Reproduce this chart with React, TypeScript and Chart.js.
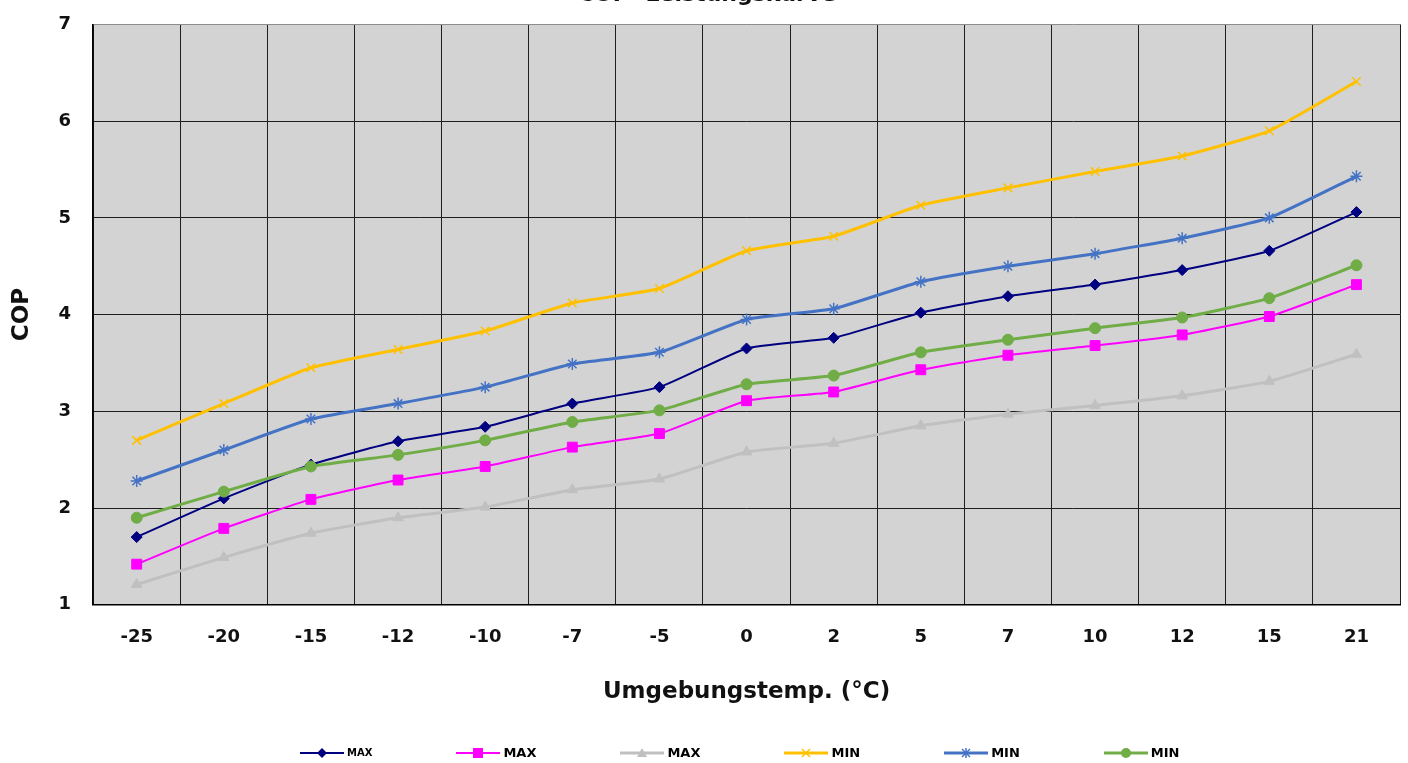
import React, { useEffect, useRef } from "react";
import { Chart, registerables } from "chart.js";

Chart.register(...registerables);

const chartTitle = "COP -Leistungskurve";
const xTitle = "Umgebungstemp. (°C)";
const yTitle = "COP";
const categories = ["-25", "-20", "-15", "-12", "-10", "-7", "-5", "0", "2", "5", "7", "10", "12", "15", "21"];

const maxNavy = [1.70, 2.10, 2.45, 2.69, 2.84, 3.08, 3.25, 3.65, 3.76, 4.02, 4.19, 4.31, 4.46, 4.66, 5.06];
const maxMagenta = [1.42, 1.79, 2.09, 2.29, 2.43, 2.63, 2.77, 3.11, 3.20, 3.43, 3.58, 3.68, 3.79, 3.98, 4.31];
const maxGray = [1.21, 1.49, 1.74, 1.90, 2.01, 2.19, 2.30, 2.58, 2.67, 2.85, 2.97, 3.06, 3.16, 3.31, 3.59];
const minYellow = [2.70, 3.08, 3.45, 3.64, 3.83, 4.12, 4.27, 4.66, 4.81, 5.13, 5.31, 5.48, 5.64, 5.90, 6.41];
const minBlue = [2.28, 2.60, 2.92, 3.08, 3.25, 3.49, 3.61, 3.95, 4.06, 4.34, 4.50, 4.63, 4.79, 5.00, 5.43];
const minGreen = [1.90, 2.17, 2.43, 2.55, 2.70, 2.89, 3.01, 3.28, 3.37, 3.61, 3.74, 3.86, 3.97, 4.17, 4.51];

const seriesValues = [maxNavy, maxMagenta, maxGray, minYellow, minBlue, minGreen];
const seriesLabels = ["MAX", "MAX", "MAX", "MIN", "MIN", "MIN"];
const seriesColors = ["#000080", "#ff00ff", "#c0c0c0", "#ffc000", "#4472c4", "#70ad47"];
const seriesPointStyles = ["rectRot", "rect", "triangle", "crossRot", "star", "circle"];
const seriesLineWidths = [2, 2, 3, 3, 3, 3];
const seriesPointRadii = [5.5, 7, 6, 6, 6, 5.5];

const yMin = 1;
const yMax = 7;

const FONT = "'DejaVu Sans', sans-serif";

const plotBg = {
  id: "plotBg",
  beforeDraw(chart: any) {
    const { ctx, chartArea: a } = chart;
    ctx.save();
    ctx.fillStyle = "#d3d3d3";
    ctx.fillRect(a.left, a.top, a.right - a.left, a.bottom - a.top);
    ctx.restore();
  },
};

function Swatch({ color, style, lw }: { color: string; style: string; lw: number }) {
  const W = 44;
  const c = W / 2;
  let marker: React.ReactNode = null;
  if (style === "rectRot") marker = <polygon points={`${c},2 ${c + 5},7 ${c},12 ${c - 5},7`} fill={color} />;
  else if (style === "rect") marker = <rect x={c - 5} y={2} width={10} height={10} fill={color} />;
  else if (style === "triangle") marker = <polygon points={`${c},2 ${c + 5},11 ${c - 5},11`} fill={color} />;
  else if (style === "crossRot")
    marker = (
      <g stroke={color} strokeWidth={1.5}>
        <line x1={c - 4} y1={3} x2={c + 4} y2={11} />
        <line x1={c + 4} y1={3} x2={c - 4} y2={11} />
      </g>
    );
  else if (style === "star")
    marker = (
      <g stroke={color} strokeWidth={1.5}>
        <line x1={c - 4} y1={3} x2={c + 4} y2={11} />
        <line x1={c + 4} y1={3} x2={c - 4} y2={11} />
        <line x1={c} y1={2} x2={c} y2={12} />
      </g>
    );
  else marker = <circle cx={c} cy={7} r={5} fill={color} />;
  return (
    <svg width={W} height={14} style={{ display: "block" }}>
      <line x1={0} y1={7} x2={W} y2={7} stroke={color} strokeWidth={lw} />
      {marker}
    </svg>
  );
}

export default function App() {
  const ref = useRef<HTMLCanvasElement | null>(null);

  useEffect(() => {
    if (!ref.current) return;
    const n = seriesValues.length;
    const chart = new Chart(ref.current, {
      type: "line",
      data: {
        labels: categories,
        datasets: seriesValues.map((vals, i) => ({
          label: seriesLabels[i],
          data: vals,
          borderColor: seriesColors[i],
          backgroundColor: seriesColors[i],
          pointBackgroundColor: seriesColors[i],
          pointBorderColor: seriesColors[i],
          pointStyle: seriesPointStyles[i] as any,
          pointRadius: seriesPointRadii[i],
          pointBorderWidth: seriesPointStyles[i] === "crossRot" || seriesPointStyles[i] === "star" ? 1.5 : 1,
          borderWidth: seriesLineWidths[i],
          tension: 0.15,
          fill: false,
          order: n - 1 - i,
        })),
      },
      options: {
        animation: false,
        responsive: true,
        maintainAspectRatio: false,
        layout: { padding: { left: 8, right: 2, top: 0, bottom: 57 } },
        plugins: {
          legend: { display: false },
          tooltip: { enabled: false },
          title: {
            display: true,
            text: chartTitle,
            color: "#111",
            font: { family: FONT, size: 22, weight: "bold" },
            padding: { top: 12, bottom: 16 },
          },
        },
        scales: {
          x: {
            type: "category",
            offset: true,
            grid: {
              offset: true,
              drawTicks: false,
              lineWidth: 1,
              color: (ctx: any) => (ctx.index === categories.length ? "#8c8c8c" : "#1e1e1e"),
            },
            border: { color: "#000", width: 1.5 },
            ticks: {
              color: "#111",
              padding: 22,
              font: { family: FONT, size: 18, weight: "bold" },
            },
            title: {
              display: true,
              text: xTitle,
              color: "#111",
              font: { family: FONT, size: 23, weight: "bold" },
              padding: { top: 8, bottom: 0 },
            },
          },
          y: {
            min: yMin,
            max: yMax,
            grid: {
              drawTicks: false,
              lineWidth: 1,
              color: (ctx: any) => (ctx.tick && ctx.tick.value === yMax ? "#8c8c8c" : "#1e1e1e"),
            },
            border: { color: "#000", width: 1.5 },
            ticks: {
              stepSize: 1,
              color: "#111",
              padding: 22,
              font: { family: FONT, size: 18, weight: "bold" },
            },
            title: {
              display: true,
              text: yTitle,
              color: "#111",
              font: { family: FONT, size: 23, weight: "bold" },
              padding: { top: 0, bottom: 1 },
            },
          },
        },
      },
      plugins: [plotBg],
    });
    return () => chart.destroy();
  }, []);

  return (
    <>
      <div style={{ position: "absolute", left: 0, top: -30, width: 1408, height: 793 }}>
        <canvas ref={ref} />
      </div>
      <div
        style={{
          position: "absolute",
          left: 300,
          top: 746,
          display: "flex",
          alignItems: "center",
          gap: 84,
          fontFamily: FONT,
          fontWeight: "bold",
          color: "#000",
        }}
      >
        {seriesLabels.map((lab, i) => (
          <div key={i} style={{ display: "flex", alignItems: "center", gap: 3 }}>
            <Swatch color={seriesColors[i]} style={seriesPointStyles[i]} lw={seriesLineWidths[i]} />
            <span style={{ fontSize: i === 0 ? 10 : 13, lineHeight: "14px" }}>{lab}</span>
          </div>
        ))}
      </div>
    </>
  );
}
